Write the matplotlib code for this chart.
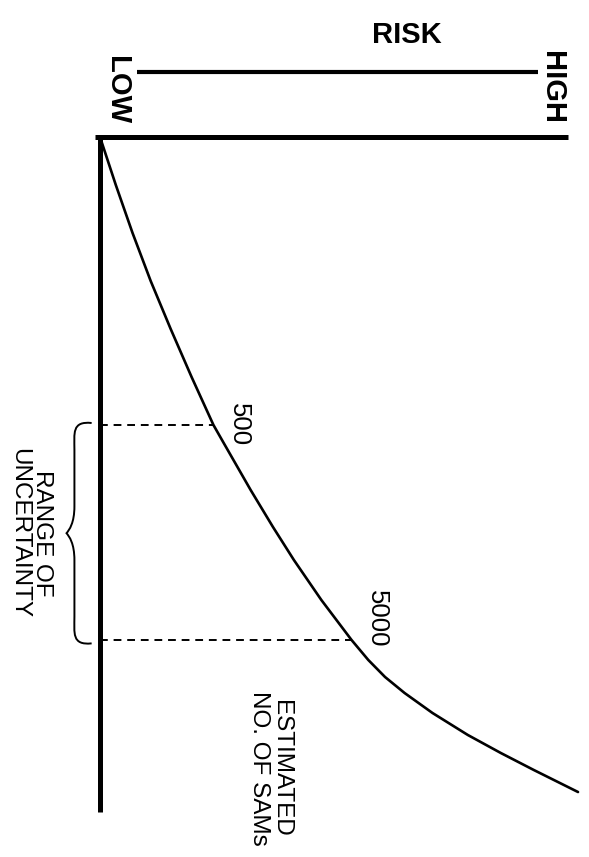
import matplotlib
matplotlib.use('Agg')
import matplotlib.pyplot as plt
from matplotlib.path import Path
from matplotlib.patches import PathPatch

plt.rcParams['font.family'] = ['Liberation Sans', 'DejaVu Sans']

# risk (0 = low, 1 = high) vs position along the "estimated no. of SAMs" axis (0 = top, 100 = bottom)
curve_risk = [0.0, 0.034, 0.070, 0.109, 0.152, 0.197, 0.244, 0.266, 0.324, 0.372, 0.417,
              0.476, 0.541, 0.577, 0.613, 0.655, 0.715, 0.791, 0.862, 0.933, 1.028]
curve_sams = [0.0, 7.11, 14.22, 21.33, 28.44, 35.56, 42.67, 45.33, 52.30, 57.78, 62.67,
              68.59, 74.52, 77.48, 80.0, 82.37, 85.33, 88.59, 91.26, 93.78, 97.04]

# marked estimates on the curve
mark_labels = ['500', '5000']
mark_risk = [0.244, 0.541]
mark_sams = [42.67, 74.52]

fig = plt.figure(figsize=(5.89, 8.57), dpi=100)
ax = fig.add_axes([100 / 589, 45 / 857, 465 / 589, 675 / 857])
ax.set_xlim(0, 1)
ax.set_ylim(100, 0)
ax.axis('off')

# axes (drawn by hand so they can stick out a little)
ax.plot([-0.01, 1.0065], [0, 0], color='black', lw=3.6, solid_capstyle='butt', clip_on=False)
ax.plot([0, 0], [-0.3, 100], color='black', lw=3.6, solid_capstyle='butt', clip_on=False)

# risk scale bar
ax.plot([0.08, 0.942], [-9.6, -9.6], color='black', lw=3.0, solid_capstyle='butt', clip_on=False)
ax.text(0.66, -15.1, 'RISK', fontsize=21, fontweight='bold', ha='center', va='center')
ax.text(0.037, -7.0, 'LOW', fontsize=21, fontweight='bold', rotation=-90, ha='center', va='center')
ax.text(0.972, -7.3, 'HIGH', fontsize=21, fontweight='bold', rotation=-90, ha='center', va='center')

# the curve
ax.plot(curve_risk, curve_sams, color='black', lw=1.9, solid_joinstyle='round',
        solid_capstyle='round', clip_on=False)

# dashed guides and labels
label_offsets = [(0.054, 0.0), (0.054, -3.2)]
for lab, r, s, off in zip(mark_labels, mark_risk, mark_sams, label_offsets):
    ax.plot([0, r], [s, s], color='black', lw=1.4, dashes=(4, 3))
    ax.text(r + off[0], s + off[1], lab, fontsize=18.5, rotation=-90, ha='center', va='center')

# brace for range of uncertainty
y0, y1 = mark_sams[0] - 0.3, mark_sams[1] + 0.5
ym = (y0 + y1) / 2
xe, xs, xt = -0.018, -0.055, -0.072
verts = [(xe, y0),
         (xs - 0.006, y0 - 0.3), (xs, y0 + 1.5), (xs, y0 + 4),
         (xs, ym - 4),
         (xs, ym - 1.5), (xt + 0.006, ym - 0.5), (xt, ym),
         (xt + 0.006, ym + 0.5), (xs, ym + 1.5), (xs, ym + 4),
         (xs, y1 - 4),
         (xs, y1 - 1.5), (xs - 0.006, y1 + 0.3), (xe, y1)]
codes = [Path.MOVETO,
         Path.CURVE4, Path.CURVE4, Path.CURVE4,
         Path.LINETO,
         Path.CURVE4, Path.CURVE4, Path.CURVE4,
         Path.CURVE4, Path.CURVE4, Path.CURVE4,
         Path.LINETO,
         Path.CURVE4, Path.CURVE4, Path.CURVE4]
ax.add_patch(PathPatch(Path(verts, codes), fill=False, lw=1.4, edgecolor='black', clip_on=False))

ax.text(-0.15, ym, 'RANGE OF\nUNCERTAINTY', fontsize=17.5, rotation=-90, ha='center', va='center',
        multialignment='center', linespacing=1.05)
ax.text(0.366, 93.5, 'ESTIMATED\nNO. OF SAMs', fontsize=17.5, rotation=-90, ha='center', va='center',
        multialignment='center', linespacing=1.0)

plt.savefig('out.png', dpi=100)
